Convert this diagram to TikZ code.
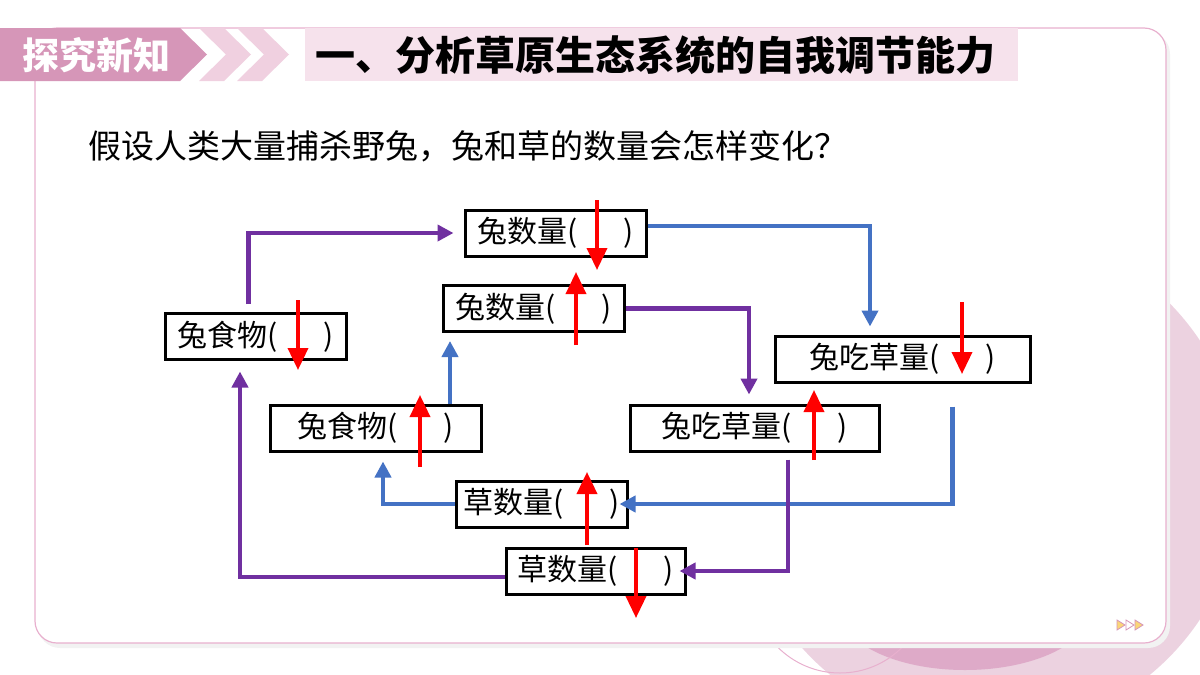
\documentclass[tikz,border=0pt]{standalone}
\usepackage{fontspec}
\setmainfont{Noto Sans CJK SC}
\usetikzlibrary{arrows.meta,calc}
\definecolor{ecopurple}{RGB}{112,48,160}
\definecolor{ecoblue}{RGB}{68,114,196}
\definecolor{ecored}{RGB}{255,0,0}
\definecolor{ecopink}{RGB}{214,150,184}
\definecolor{ecolight}{RGB}{240,208,224}
\definecolor{ecobar}{RGB}{246,226,236}
\definecolor{ecoback}{RGB}{236,210,224}
\definecolor{ecodeep}{RGB}{222,170,200}
\definecolor{ecoedge}{RGB}{232,176,206}
\definecolor{ecogold}{RGB}{250,214,120}

\begin{document}
\begin{tikzpicture}[x=1pt, y=-1pt,
    qbox/.style={draw=black, line width=3pt, fill=white, minimum height=46pt, inner sep=0pt, font=\fontsize{30}{32}\selectfont},
    purp/.style={draw=ecopurple, line width=4.4pt, -{Triangle[length=16pt,width=16pt]}},
    blu/.style={draw=ecoblue, line width=4.4pt, -{Triangle[length=16pt,width=16pt]}},
    trend/.style={draw=ecored, line width=3.6pt, -{Triangle[length=22pt,width=20pt]}}
  ]
  \useasboundingbox (0,0) rectangle (1200,675);
  \clip (0,0) rectangle (1200,675);

  % background and card
  \fill[ecoback] (990,480) circle (252);
  \fill[ecodeep] (965,610) ellipse (125 and 60);
  \draw[ecoedge, line width=1pt] (840,585) circle (88);
  \fill[black!5, rounded corners=22pt] (38,32) rectangle (1170,648);
  \draw[ecoedge, line width=1.2pt, fill=white, rounded corners=22pt] (35,28) rectangle (1166,643);

  % header
  \fill[ecopink] (0,28) -- (180,28) -- (207,54.5) -- (180,81) -- (0,81) -- cycle;
  \fill[ecolight] (199,28) -- (224,28) -- (251,54.5) -- (224,81) -- (199,81) -- (226,54.5) -- cycle;
  \fill[ecolight] (237,28) -- (262,28) -- (289,54.5) -- (262,81) -- (237,81) -- (264,54.5) -- cycle;
  \fill[ecobar] (305,28) rectangle (1018,81);
  \node[anchor=west, inner sep=0pt, text=white, font=\fontsize{37}{40}\selectfont\bfseries] (tag) at (22,55) {探究新知};
  \node[anchor=west, inner sep=0pt, font=\fontsize{40}{44}\selectfont\bfseries] (title) at (315,55) {一、分析草原生态系统的自我调节能力};
  \node[anchor=west, inner sep=0pt, font=\fontsize{33}{36}\selectfont] (ask) at (88,146) {假设人类大量捕杀野兔，兔和草的数量会怎样变化？};

  % boxes
  \node[qbox, minimum width=181pt] (rabA) at (555.5,233) {兔数量(\hspace{1.5em})};
  \node[qbox, minimum width=181pt] (rabB) at (533.5,308.5) {兔数量(\hspace{1.5em})};
  \node[qbox, minimum width=181pt] (shiA) at (255.5,336.5) {兔食物(\hspace{1.5em})};
  \node[qbox, minimum width=211pt] (shiB) at (375.5,428) {兔食物(\hspace{1.5em})};
  \node[qbox, minimum width=255pt] (chiA) at (902.5,359) {兔吃草量(\hspace{1.5em})};
  \node[qbox, minimum width=249pt] (chiB) at (754.5,428) {兔吃草量(\hspace{1.5em})};
  \node[qbox, minimum width=171pt] (caoA) at (541.5,504) {草数量(\hspace{1.5em})};
  \node[qbox, minimum width=179pt] (caoB) at (595.5,571) {草数量(\hspace{1.5em})};

  % connectors
  \draw[purp] ([shift={(-7,-8)}]shiA.north) |- ([shift={(-10,0)}]rabA.west);
  \draw[blu] ([shift={(0,-7)}]rabA.east) -| ([shift={(-32.5,-8)}]chiA.north);
  \draw[purp] (rabB.east) -| ([shift={(-5.5,-9)}]chiB.north);
  \draw[blu] ([shift={(50,23)}]chiA.south) |- ([shift={(-9,0)}]caoA.east);
  \draw[blu] (caoA.west) -| ([shift={(7.5,9)}]shiB.south);
  \draw[blu] ([shift={(74.5,0)}]shiB.north) -- ([shift={(-83.5,8)}]rabB.south);
  \draw[purp] ([shift={(33.5,7)}]chiB.south) |- ([shift={(-7,0)}]caoB.east);
  \draw[purp] ([shift={(0,6)}]caoB.west) -| ([shift={(-15.5,10.5)}]shiA.south);

  % trends
  \draw[trend] ($(rabA.center)+(41.5,-33)$) -- ++(0,70);
  \draw[trend] ($(rabB.center)+(42.5,36.5)$) -- ++(0,-73);
  \draw[trend] ($(shiA.center)+(42.5,-36.5)$) -- ++(0,70);
  \draw[trend] ($(shiB.center)+(44.5,39)$) -- ++(0,-72);
  \draw[trend] ($(chiA.center)+(59.5,-57)$) -- ++(0,72);
  \draw[trend] ($(chiB.center)+(59.5,32)$) -- ++(0,-70);
  \draw[trend] ($(caoA.center)+(45.5,41)$) -- ++(0,-73);
  \draw[trend] ($(caoB.center)+(40.5,-23)$) -- ++(0,70);

  % page marks
  \foreach \px/\pf in {1117/ecogold,1126/white,1135/ecogold}
    \filldraw[fill=\pf, draw=ecopink, line width=0.8pt] (\px,620) -- (\px+8,625) -- (\px,630) -- cycle;
\end{tikzpicture}
\end{document}
